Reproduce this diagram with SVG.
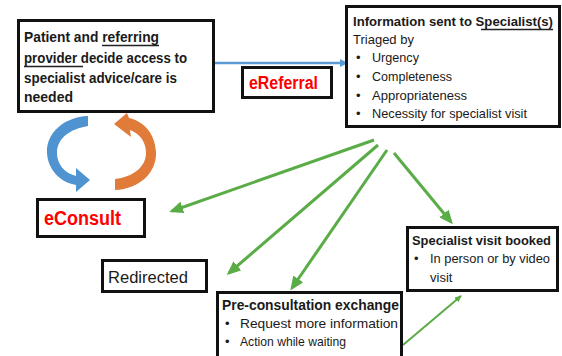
<svg xmlns="http://www.w3.org/2000/svg" width="562" height="356" viewBox="0 0 562 356">
  <defs>
    <style>
      .box { fill: #ffffff; stroke: #111111; stroke-width: 3; }
      .t { font-family: "Liberation Sans", Arial, sans-serif; fill: #1a1a1a; }
      .b { font-weight: bold; }
      .red { fill: #ff0000; font-weight: bold; }
      .ul { stroke: #222222; stroke-width: 1.3; }
      .green { stroke: #5aac46; stroke-width: 3; fill: none; marker-end: url(#headGreen); }
      .green-thin { stroke: #5aac46; stroke-width: 2; fill: none; marker-end: url(#headGreenSmall); }
      .blue { stroke: #5b9bd5; stroke-width: 2.5; fill: none; marker-end: url(#headBlue); }
    </style>
    <marker id="headGreen" markerUnits="userSpaceOnUse" markerWidth="14" markerHeight="12" refX="11" refY="6" orient="auto">
      <path d="M0,0 L14,6 L0,12 z" fill="#5aac46"/>
    </marker>
    <marker id="headGreenSmall" markerUnits="userSpaceOnUse" markerWidth="7" markerHeight="6" refX="6" refY="3" orient="auto">
      <path d="M0,0 L7,3 L0,6 z" fill="#5aac46"/>
    </marker>
    <marker id="headBlue" markerUnits="userSpaceOnUse" markerWidth="8" markerHeight="8" refX="6" refY="4" orient="auto">
      <path d="M0,0 L8,4 L0,8 z" fill="#5b9bd5"/>
    </marker>
  </defs>

  <rect width="562" height="356" fill="#ffffff"/>

  <!-- connectors -->
  <g id="connectors">
    <line class="blue" x1="214" y1="63" x2="346" y2="63"/>
    <line class="green" x1="374" y1="140" x2="172" y2="211"/>
    <line class="green" x1="378" y1="145" x2="229" y2="273"/>
    <line class="green" x1="387" y1="150" x2="292" y2="288"/>
    <line class="green" x1="394" y1="153" x2="451" y2="222"/>
    <line class="green-thin" x1="403" y1="345" x2="461" y2="296"/>
  </g>

  <!-- circular eConsult arrows -->
  <g id="cycle">
    <path d="M 88 116 C 64 117 46 133 47 153 C 48 170 60 182 76 185 L 76 192 L 90 180 L 76 168 L 76 176 C 64 173 57 164 57 153 C 57 138 70 129 88 126 Z" fill="#4f93d0"/>
    <path d="M 115 190 C 140 189 157 172 156 152 C 155 134 145 122 129 118 L 127 113 L 114 124 L 131 137 L 130 130 C 141 134 146 143 146 153 C 146 167 133 177 115 179 Z" fill="#e07b39"/>
  </g>

  <g id="patient">
    <rect class="box" x="18.5" y="20.5" width="195" height="91"/>
    <text class="t b" font-size="15" x="24" y="42" textLength="135" lengthAdjust="spacingAndGlyphs">Patient and referring</text>
    <text class="t b" font-size="15" x="24" y="63" textLength="163" lengthAdjust="spacingAndGlyphs">provider decide access to</text>
    <text class="t b" font-size="15" x="24" y="83" textLength="153" lengthAdjust="spacingAndGlyphs">specialist advice/care is</text>
    <text class="t b" font-size="15" x="24" y="102" textLength="49" lengthAdjust="spacingAndGlyphs">needed</text>
    <line class="ul" x1="102" y1="45.5" x2="159" y2="45.5"/>
    <line class="ul" x1="24" y1="66.5" x2="83" y2="66.5"/>
  </g>

  <g id="ereferral">
    <rect class="box" x="242.5" y="67.5" width="89" height="30"/>
    <text class="t red" font-size="18" x="249" y="89" textLength="69" lengthAdjust="spacingAndGlyphs">eReferral</text>
  </g>

  <g id="specialist-info">
    <rect class="box" x="346.5" y="6.5" width="213" height="120"/>
    <text class="t b" font-size="13.5" x="353" y="26" textLength="200" lengthAdjust="spacingAndGlyphs">Information sent to Specialist(s)</text>
    <line class="ul" x1="481" y1="29.5" x2="553" y2="29.5"/>
    <text class="t" font-size="13" x="353" y="44">Triaged by</text>
    <text class="t" font-size="13" x="356" y="62">•</text>
    <text class="t" font-size="13" x="372" y="62" textLength="47" lengthAdjust="spacingAndGlyphs">Urgency</text>
    <text class="t" font-size="13" x="356" y="81">•</text>
    <text class="t" font-size="13" x="372" y="81" textLength="80" lengthAdjust="spacingAndGlyphs">Completeness</text>
    <text class="t" font-size="13" x="356" y="100">•</text>
    <text class="t" font-size="13" x="372" y="100" textLength="95" lengthAdjust="spacingAndGlyphs">Appropriateness</text>
    <text class="t" font-size="13" x="356" y="118">•</text>
    <text class="t" font-size="13" x="372" y="118" textLength="155" lengthAdjust="spacingAndGlyphs">Necessity for specialist visit</text>
  </g>

  <g id="econsult">
    <rect class="box" x="37.5" y="199.5" width="107" height="37"/>
    <text class="t red" font-size="20" x="44" y="225" textLength="77" lengthAdjust="spacingAndGlyphs">eConsult</text>
  </g>

  <g id="redirected">
    <rect class="box" x="102.5" y="260.5" width="104" height="31"/>
    <text class="t" font-size="16" x="108" y="283" textLength="80" lengthAdjust="spacingAndGlyphs">Redirected</text>
  </g>

  <g id="pre-consultation">
    <rect class="box" x="217.5" y="292.5" width="184" height="70"/>
    <text class="t b" font-size="14.5" x="222" y="310" textLength="177" lengthAdjust="spacingAndGlyphs">Pre-consultation exchange</text>
    <text class="t" font-size="13" x="225" y="328">•</text>
    <text class="t" font-size="13" x="240" y="328" textLength="158" lengthAdjust="spacingAndGlyphs">Request more information</text>
    <text class="t" font-size="13" x="225" y="346">•</text>
    <text class="t" font-size="13" x="240" y="346" textLength="106" lengthAdjust="spacingAndGlyphs">Action while waiting</text>
  </g>

  <g id="visit-booked">
    <rect class="box" x="407.5" y="227.5" width="150" height="63"/>
    <text class="t b" font-size="13" x="412" y="245" textLength="139" lengthAdjust="spacingAndGlyphs">Specialist visit booked</text>
    <text class="t" font-size="13" x="414" y="263">•</text>
    <text class="t" font-size="13" x="430" y="263" textLength="120" lengthAdjust="spacingAndGlyphs">In person or by video</text>
    <text class="t" font-size="13" x="430" y="282">visit</text>
  </g>
</svg>
